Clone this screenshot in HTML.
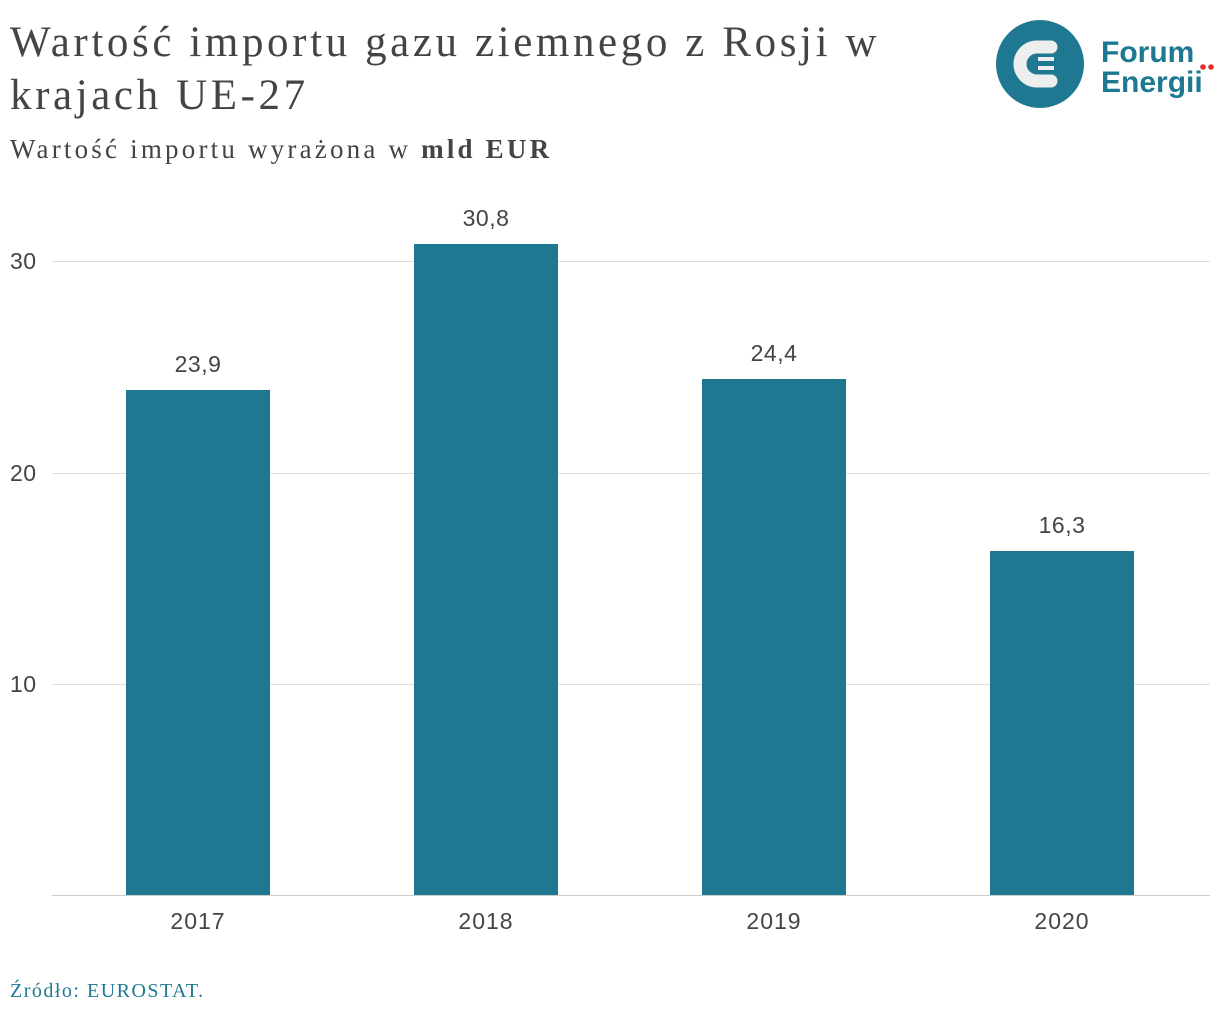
<!DOCTYPE html>
<html><head><meta charset="utf-8"><style>
body{margin:0;width:1220px;height:1020px;background:#fff;position:relative;overflow:hidden;font-family:"Liberation Sans",sans-serif;color:#333}
.t{position:absolute;left:10px;font-family:"Liberation Serif",serif;color:#444;white-space:nowrap}
.g{position:absolute;left:52px;width:1158px;height:1px;background:#ddd}
.y{position:absolute;left:10px;font-size:23px;color:#444;letter-spacing:0.5px}
.b{position:absolute;width:144px;background:#1e7891}
.v{position:absolute;width:144px;text-align:center;font-size:23px;color:#444;letter-spacing:0.5px}
.x{position:absolute;width:144px;text-align:center;top:908px;font-size:23px;color:#444;letter-spacing:1px}
</style></head><body>
<div class="t" style="top:16px;font-size:43px;line-height:53px;letter-spacing:3.6px">Wartość importu gazu ziemnego z Rosji w<br>krajach UE-27</div>
<div class="t" style="top:134px;font-size:27px;letter-spacing:3.2px">Wartość importu wyrażona w <b>mld EUR</b></div>
<svg style="position:absolute;left:995px;top:19px" width="225" height="90">
<circle cx="45" cy="45" r="44" fill="#1e7891"/>
<path d="M56 28 H42 A17 17 0 0 0 42 62 H56" fill="none" stroke="#eee" stroke-width="13" stroke-linecap="round"/>
<rect x="43" y="38" width="16" height="4" fill="#eee"/><rect x="43" y="47" width="16" height="4" fill="#eee"/>
<text x="106" y="43" font-family="Liberation Sans" font-weight="bold" font-size="30" fill="#1e7891">Forum</text>
<text x="106" y="73" font-family="Liberation Sans" font-weight="bold" font-size="30" fill="#1e7891">Energii</text>
<circle cx="208" cy="48" r="2.8" fill="#e52b2b"/><circle cx="216" cy="48" r="2.8" fill="#e52b2b"/>
</svg>
<div class="g" style="top:261px"></div><div class="g" style="top:473px"></div><div class="g" style="top:684px"></div>
<div class="g" style="top:895px;background:#ccc"></div>
<div class="y" style="top:248px">30</div><div class="y" style="top:460px">20</div><div class="y" style="top:671px">10</div>
<div class="b" style="left:126px;top:390px;height:505px"></div>
<div class="b" style="left:414px;top:244px;height:651px"></div>
<div class="b" style="left:702px;top:379px;height:516px"></div>
<div class="b" style="left:990px;top:551px;height:344px"></div>
<div class="v" style="left:126px;top:351px">23,9</div>
<div class="v" style="left:414px;top:205px">30,8</div>
<div class="v" style="left:702px;top:340px">24,4</div>
<div class="v" style="left:990px;top:512px">16,3</div>
<div class="x" style="left:126px">2017</div><div class="x" style="left:414px">2018</div><div class="x" style="left:702px">2019</div><div class="x" style="left:990px">2020</div>
<div class="t" style="top:980px;font-size:20px;letter-spacing:1.5px;color:#1e7891">Źródło: EUROSTAT.</div>
</body></html>
